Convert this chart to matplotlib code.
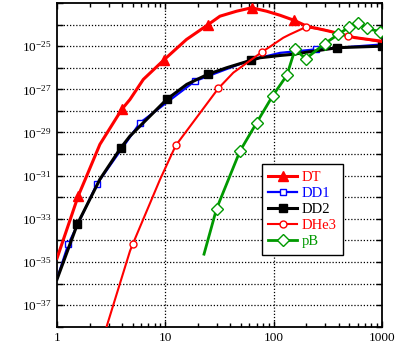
import matplotlib
matplotlib.use('Agg')
import matplotlib.pyplot as plt
import numpy as np
from matplotlib.ticker import FixedLocator, NullFormatter

plt.rcParams['font.family'] = 'Liberation Serif'
plt.rcParams['mathtext.fontset'] = 'custom'
plt.rcParams['mathtext.rm'] = 'Liberation Serif'
plt.rcParams['mathtext.it'] = 'Liberation Serif:italic'

# reactivity curves (x: temperature, y: <sigma v>)
dt_x = [1.0, 1.57, 1.82, 2.49, 3.96, 4.72, 6.27, 9.8, 15.7, 24.9, 32.0, 45.6, 62.8,
        86.3, 115, 155, 202, 331, 560, 1000]
dt_y = [1.48e-35, 1.15e-32, 6.6e-32, 2.82e-30, 1.17e-28, 3.39e-28, 2.88e-27, 2.40e-26,
        2.04e-25, 1.0e-24, 2.45e-24, 4.17e-24, 6.03e-24, 4.17e-24, 2.7e-24, 1.58e-24,
        8.5e-25, 4.9e-25, 2.5e-25, 1.7e-25]
dt_marks = [1, 4, 7, 9, 12, 15]

dd1_x = [1.0, 1.27, 2.33, 5.84, 18.8, 61.5, 115, 245, 1000]
dd1_y = [1.66e-36, 6.6e-35, 4.0e-32, 2.8e-29, 2.4e-27, 2.3e-26, 4.9e-26, 7.1e-26, 1.2e-25]
dd1_marks = [1, 2, 3, 4, 7]

dd2_x = [1.0, 1.54, 2.49, 3.9, 4.72, 10.3, 15.8, 24.6, 36.9, 61.5, 74.8, 115, 151, 387, 1000]
dd2_y = [1.58e-36, 5.6e-34, 6.8e-32, 2.0e-30, 6.8e-30, 3.4e-28, 1.7e-27, 4.9e-27, 1.0e-26,
         2.19e-26, 2.9e-26, 3.7e-26, 4.2e-26, 8.5e-26, 1.0e-25]
dd2_marks = [1, 3, 5, 7, 9, 13, 14]

dhe3_x = [2.87, 4.72, 5.0, 8.94, 12.5, 30.9, 42.5, 77.6, 123, 141.6, 198, 288, 369, 490, 1000]
dhe3_y = [1e-38, 3.2e-35, 6.6e-35, 6.6e-32, 2.5e-30, 1.1e-27, 5.9e-27, 5.2e-26, 2.45e-25,
          3.5e-25, 7.6e-25, 5.9e-25, 4.2e-25, 2.9e-25, 1.55e-25]
dhe3_marks = [2, 4, 5, 7, 10, 13]

pb_x = [22.8, 29.8, 49, 69.8, 98, 133, 158, 199, 298, 396, 497, 606, 734, 960]
pb_y = [2.3e-35, 2.95e-33, 1.38e-30, 2.8e-29, 4.9e-28, 4.5e-27, 7.1e-26, 2.6e-26, 1.32e-25,
        3.5e-25, 7.6e-25, 1.2e-24, 6.6e-25, 4.7e-25]
pb_marks = list(range(1, 14))

y_decades = [1e-38, 1e-37, 1e-36, 1e-35, 1e-34, 1e-33, 1e-32, 1e-31, 1e-30, 1e-29,
             1e-28, 1e-27, 1e-26, 1e-25, 1e-24, 1e-23]
y_labels = ['', r'$10^{-37}$', '', r'$10^{-35}$', '', r'$10^{-33}$', '', r'$10^{-31}$', '',
            r'$10^{-29}$', '', r'$10^{-27}$', '', r'$10^{-25}$', '', '']
x_ticks = [1, 10, 100, 1000]
x_labels = ['1', '10', '100', '1000']

fig = plt.figure(figsize=(3.96, 3.63), dpi=100)
ax = fig.add_axes([0.144, 0.1, 0.820, 0.8917])
ax.set_xscale('log')
ax.set_yscale('log')
ax.set_xlim(1, 1000)
ax.set_ylim(1e-38, 1e-23)

red, blue, green = '#ff0000', '#0000ff', '#009900'
ax.plot(dt_x, dt_y, color=red, lw=2.2, marker='^', ms=7, markevery=dt_marks,
        mfc=red, mec=red, label='DT', zorder=3)
ax.plot(dd1_x, dd1_y, color=blue, lw=1.6, marker='s', ms=4.5, markevery=dd1_marks,
        mfc='white', mec=blue, label='DD1', zorder=3)
ax.plot(dd2_x, dd2_y, color='black', lw=2.2, marker='s', ms=5.5, markevery=dd2_marks,
        mfc='black', mec='black', label='DD2', zorder=4)
ax.plot(dhe3_x, dhe3_y, color=red, lw=1.5, marker='o', ms=5, markevery=dhe3_marks,
        mfc='white', mec=red, label='DHe3', zorder=5)
ax.plot(pb_x, pb_y, color=green, lw=2.0, marker='D', ms=6, markevery=pb_marks,
        mfc='white', mec=green, mew=1.0, label='pB', zorder=6)

ax.yaxis.set_major_locator(FixedLocator(y_decades))
ax.yaxis.set_minor_locator(FixedLocator([]))
ax.set_yticklabels(y_labels)
ax.xaxis.set_major_locator(FixedLocator(x_ticks))
ax.set_xticklabels(x_labels)
minors = [m * d for d in (1, 10, 100) for m in range(2, 10)]
ax.xaxis.set_minor_locator(FixedLocator(minors))
ax.xaxis.set_minor_formatter(NullFormatter())

ax.tick_params(which='both', direction='in', top=True, right=True, labelsize=9.5,
               width=1.0, colors='black')
ax.tick_params(which='major', length=4, pad=4)
ax.tick_params(which='minor', length=3)
ax.tick_params(axis='x', which='major', pad=4)

for d in y_decades[1:-1]:
    ax.axhline(d, color='black', lw=0.9, ls=(0, (1, 1.5)), zorder=1)
for xv in (10, 100):
    ax.axvline(xv, color='black', lw=0.9, ls=(0, (1, 1.5)), zorder=1)

for s in ax.spines.values():
    s.set_linewidth(1.3)

leg = ax.legend(loc='upper left', bbox_to_anchor=(0.630, 0.502), borderaxespad=0,
                fontsize=10.5, handlelength=2.0, handletextpad=0.3, labelspacing=0.2,
                borderpad=0.45, fancybox=False, framealpha=1, edgecolor='black')
leg.get_frame().set_linewidth(1.0)
for text, line in zip(leg.get_texts(), leg.get_lines()):
    text.set_color(line.get_color())

fig.savefig('out.png', dpi=100)
